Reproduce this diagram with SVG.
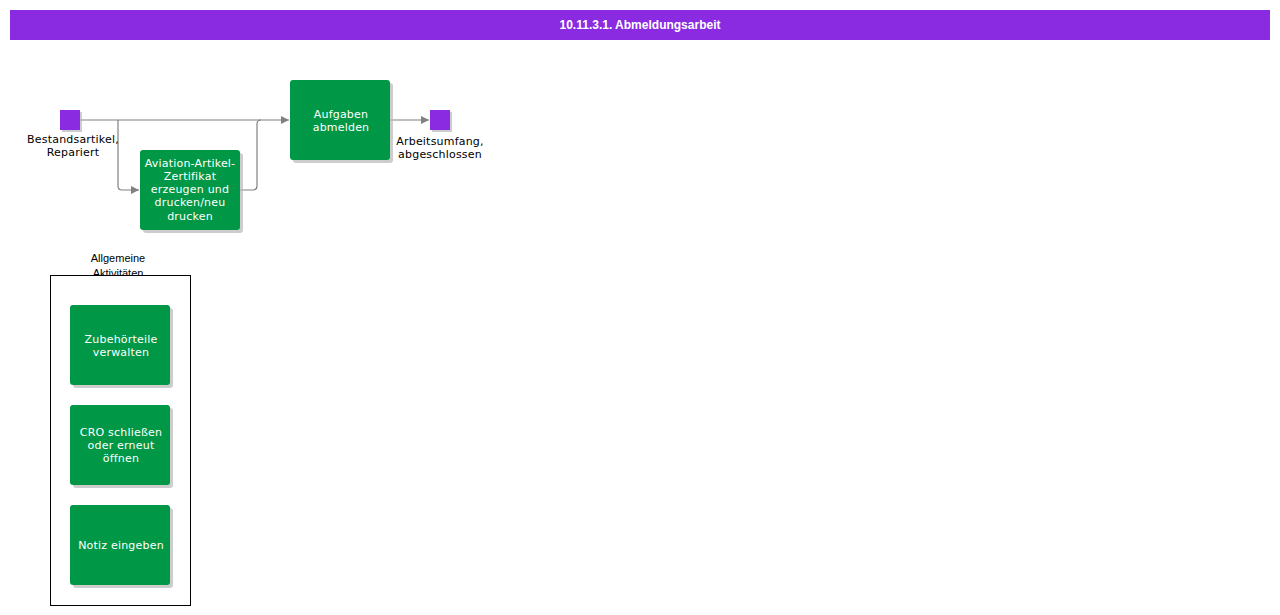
<svg xmlns="http://www.w3.org/2000/svg" width="1280" height="615" viewBox="0 0 1280 615">
<defs>
<style>
.title{font-family:"Liberation Sans",Arial,sans-serif;font-weight:bold;font-size:12px;fill:#ffffff;text-anchor:middle}
.task rect.b{fill:#009846;}
.task rect.s{fill:#b8b8b8;opacity:0.7}
.tt{font-family:"DejaVu Sans",Verdana,sans-serif;font-size:11px;fill:#ffffff;text-anchor:middle;letter-spacing:0.2px}
.lbl{font-family:"DejaVu Sans",Verdana,sans-serif;font-size:11px;fill:#000000;text-anchor:middle;letter-spacing:0.2px}
.lane{font-family:"Liberation Sans",Arial,sans-serif;font-size:11px;fill:#000000;text-anchor:middle}
.ev{fill:#8a2be2}
.evs{fill:#b8b8b8;opacity:0.7}
.c{fill:none;stroke:#808080;stroke-width:1.2}
</style>
<marker id="ah" viewBox="0 0 10 10" refX="10" refY="5" markerWidth="10" markerHeight="8" markerUnits="userSpaceOnUse" orient="auto">
<path d="M0,0 L10,5 L0,10 z" fill="#808080"/>
</marker>
</defs>
<rect x="0" y="0" width="1280" height="615" fill="#ffffff"/>
<g id="header">
<rect x="10" y="10" width="1260" height="30" fill="#8a2be2"/>
<text class="title" x="640" y="29">10.11.3.1. Abmeldungsarbeit</text>
</g>
<g id="connectors">
<path class="c" d="M80,120 L289,120" marker-end="url(#ah)"/>
<path class="c" d="M118,120 L118,186 Q118,190 122,190 L139,190" marker-end="url(#ah)"/>
<path class="c" d="M240,190 L253,190 Q257,190 257,186 L257,124 Q257,120 261,120"/>
<path class="c" d="M390,120 L429,120" marker-end="url(#ah)"/>
</g>
<g id="start">
<rect class="evs" x="62" y="112" width="20" height="20"/>
<rect class="ev" x="60" y="110" width="20" height="20"/>
<text class="lbl" x="73" y="143">Bestandsartikel,</text>
<text class="lbl" x="73" y="156">Repariert</text>
</g>
<g id="end">
<rect class="evs" x="432" y="112" width="20" height="20"/>
<rect class="ev" x="430" y="110" width="20" height="20"/>
<text class="lbl" x="440" y="145">Arbeitsumfang,</text>
<text class="lbl" x="440" y="158">abgeschlossen</text>
</g>
<g id="aufgaben" class="task">
<rect class="s" x="293" y="83" width="100" height="80" rx="3"/>
<rect class="b" x="290" y="80" width="100" height="80" rx="3"/>
<text class="tt" x="341" y="118">Aufgaben</text>
<text class="tt" x="341" y="131">abmelden</text>
</g>
<g id="aviation" class="task">
<rect class="s" x="143" y="153" width="100" height="80" rx="3"/>
<rect class="b" x="140" y="150" width="100" height="80" rx="3"/>
<text class="tt" x="190" y="167">Aviation-Artikel-</text>
<text class="tt" x="190" y="180">Zertifikat</text>
<text class="tt" x="190" y="193">erzeugen und</text>
<text class="tt" x="190" y="206">drucken/neu</text>
<text class="tt" x="190" y="220">drucken</text>
</g>
<g id="lane">
<text class="lane" x="118" y="262">Allgemeine</text>
<text class="lane" x="118" y="277">Aktivitäten</text>
<rect x="50.5" y="275.5" width="140" height="330" fill="#ffffff" stroke="#000000" stroke-width="1"/>
</g>
<g id="zubehoer" class="task">
<rect class="s" x="73" y="308" width="100" height="80" rx="3"/>
<rect class="b" x="70" y="305" width="100" height="80" rx="3"/>
<text class="tt" x="121" y="343">Zubehörteile</text>
<text class="tt" x="121" y="356">verwalten</text>
</g>
<g id="cro" class="task">
<rect class="s" x="73" y="408" width="100" height="80" rx="3"/>
<rect class="b" x="70" y="405" width="100" height="80" rx="3"/>
<text class="tt" x="121" y="436">CRO schließen</text>
<text class="tt" x="121" y="449">oder erneut</text>
<text class="tt" x="121" y="462">öffnen</text>
</g>
<g id="notiz" class="task">
<rect class="s" x="73" y="508" width="100" height="80" rx="3"/>
<rect class="b" x="70" y="505" width="100" height="80" rx="3"/>
<text class="tt" x="121" y="549">Notiz eingeben</text>
</g>
</svg>
